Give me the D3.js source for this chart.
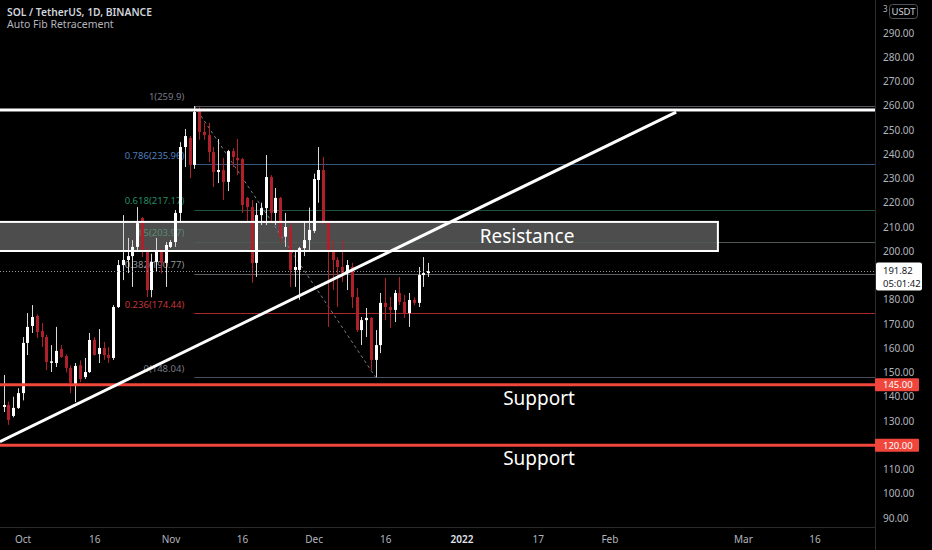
<!DOCTYPE html>
<html>
<head>
<meta charset="utf-8">
<script src="https://d3js.org/d3.v7.min.js"></script>
<style>
  html, body { margin: 0; padding: 0; background: #000; overflow: hidden; }
  svg { display: block; font-family: "Noto Sans", sans-serif; }
</style>
</head>
<body>
<svg id="chart" width="932" height="550"></svg>
<script>
// --- Daten ---
const firstDay = '2021-09-27';
const opens = [135.8, 136.6, 132.1, 135.4, 141.5, 162.2, 169.2, 173.3, 167.1, 164.6,
  154.0, 153.9, 159.7, 156.8, 151.9, 144.8, 153.0, 148.1, 150.2, 163.4,
  157.6, 160.1, 157.2, 156.0, 177.0, 194.3, 196.4, 198.0, 201.8, 213.7,
  199.7, 184.0, 195.6, 200.5, 195.2, 201.8, 203.8, 215.8, 243.0, 246.7,
  235.6, 258.2, 249.2, 247.9, 240.9, 232.7, 233.5, 228.6, 241.3, 238.5,
  238.0, 222.0, 218.2, 195.2, 214.9, 217.8, 230.6, 215.8, 222.0, 206.0,
  210.0, 192.3, 192.3, 201.3, 204.6, 208.4, 229.4, 233.5, 212.1, 199.7,
  196.4, 193.5, 191.0, 193.5, 181.1, 167.5, 171.6, 172.5, 155.2, 161.3,
  178.7, 177.0, 175.8, 182.8, 179.1, 174.5, 179.9, 178.7, 190.2, 191.0];
const highs = [149.0, 138.0, 140.0, 143.5, 164.6, 174.5, 177.8, 174.0, 170.4, 165.5,
  161.3, 168.8, 161.3, 157.5, 153.0, 153.9, 155.0, 156.0, 166.3, 164.6,
  167.9, 162.6, 160.5, 177.8, 196.4, 214.9, 205.5, 204.6, 218.2, 214.1,
  201.8, 199.0, 205.5, 201.0, 203.8, 204.6, 217.0, 245.0, 250.4, 247.5,
  259.9, 259.4, 252.9, 252.9, 243.0, 246.3, 238.5, 241.8, 242.5, 246.3,
  238.5, 222.4, 221.1, 219.9, 220.0, 239.7, 231.4, 226.1, 222.4, 215.8,
  212.0, 200.5, 201.8, 212.0, 218.0, 232.0, 243.0, 238.9, 212.5, 204.6,
  197.6, 204.6, 196.4, 195.2, 184.8, 172.9, 176.6, 172.9, 167.5, 182.8,
  189.0, 181.1, 184.0, 189.4, 182.0, 182.8, 181.0, 193.5, 197.6, 195.2];
const lows = [133.7, 128.4, 131.5, 135.0, 138.5, 157.2, 166.3, 164.2, 160.5, 151.0,
  150.2, 152.3, 156.0, 150.0, 141.5, 137.8, 146.0, 147.3, 149.8, 157.0,
  153.9, 155.2, 153.9, 155.2, 176.6, 188.1, 191.0, 185.3, 200.5, 197.6,
  181.1, 181.0, 191.4, 191.0, 185.3, 201.3, 201.8, 212.0, 234.7, 230.2,
  234.0, 246.0, 246.0, 236.8, 226.5, 228.1, 221.1, 224.8, 234.7, 231.4,
  215.8, 211.6, 187.0, 189.4, 210.8, 210.8, 211.6, 210.8, 203.4, 201.8,
  185.3, 185.3, 180.0, 198.0, 200.5, 207.5, 220.0, 211.0, 168.8, 184.0,
  177.0, 187.3, 184.0, 176.6, 166.7, 161.3, 164.6, 151.0, 148.04, 158.0,
  171.6, 168.4, 170.8, 177.8, 172.5, 168.8, 177.8, 177.0, 185.3, 189.4];
const closes = [136.6, 130.4, 135.4, 141.5, 162.2, 168.8, 172.9, 166.7, 164.6, 154.3,
  154.6, 158.9, 156.4, 151.9, 145.7, 152.7, 147.3, 150.2, 163.4, 157.2,
  160.1, 157.2, 156.0, 177.0, 194.3, 196.4, 198.0, 201.8, 211.6, 199.7,
  184.0, 195.6, 199.7, 195.2, 202.6, 203.8, 215.8, 243.0, 247.5, 235.6,
  257.4, 249.2, 247.9, 240.9, 232.7, 233.5, 228.6, 241.3, 238.9, 237.6,
  219.1, 218.2, 195.2, 214.9, 217.8, 230.6, 215.8, 222.0, 206.0, 210.0,
  192.3, 193.5, 201.3, 204.6, 208.8, 229.8, 233.5, 212.1, 200.5, 196.4,
  193.5, 191.0, 194.3, 181.1, 167.5, 171.6, 172.5, 155.2, 161.3, 178.7,
  177.0, 175.8, 182.8, 179.1, 174.5, 179.9, 178.7, 190.2, 191.0, 191.82];
const lastPrice = 191.82;
const countdown = '05:01:42';

// Auto Fib Retracement
const fibRatios = ['1', '0.786', '0.618', '0.5', '0.382', '0.236', '0'];
const fibPrices = [259.9, 235.96, 217.17, 203.97, 190.77, 174.44, 148.04];
const fibTextColors = ['#787b86', '#4f7fba', '#268a63', '#5b8a72', '#8e9496', '#c2363a', '#787b86'];
const fibLineColors = ['#55575e', '#35587c', '#1f5240', '#4d5a52', '#5a5d62', '#a8282e', '#4c4f56'];
const fibHighDay = '2021-11-06';
const fibLowDay = '2021-12-14';

// Zeichnungen
const resistanceLine = 258.2;
const resistanceZone = [200.1, 212.1];
const zoneStart = '2021-09-01';
const zoneEnd = '2022-02-23T18:00';
const supportLevels = [145, 120];
const supportLabels = ['Support', 'Support'];
const trendPoints = [['2021-09-26T06:00', 121.5], ['2022-02-15T00:00', 257.4]];

// Achsen-Beschriftungen
const priceTicks = [90, 100, 110, 120, 130, 140, 150, 160, 170, 180, 200, 210, 220, 230, 240, 250, 260, 270, 280, 290];
const timeTickDates = ['2021-10-01', '2021-10-16', '2021-11-01', '2021-11-16', '2021-12-01', '2021-12-16',
  '2022-01-01', '2022-01-17', '2022-02-01', '2022-03-01', '2022-03-16'];
const timeTickLabels = ['Oct', '16', 'Nov', '16', 'Dec', '16', '2022', '17', 'Feb', 'Mar', '16'];

// --- Layout ---
const CHART_W = 875;
const CHART_H = 527;
const UP = '#ffffff';
const DOWN = '#b0202a';
const RED_LINE = '#f0463c';

const svg = d3.select('#chart');
svg.append('rect').attr('width', 932).attr('height', 550).attr('fill', '#000');

const x = d3.scaleUtc()
  .domain([new Date('2021-10-01'), new Date('2022-03-16')])
  .range([22.6, 814.5]);
const y = d3.scaleLinear().domain([90, 290]).range([518, 33]);

svg.append('clipPath').attr('id', 'plot-clip')
  .append('rect').attr('width', CHART_W).attr('height', CHART_H);
const plot = svg.append('g').attr('clip-path', 'url(#plot-clip)');

const candles = opens.map((o, i) => ({
  date: d3.utcDay.offset(new Date(firstDay), i),
  open: o, high: highs[i], low: lows[i], close: closes[i]
}));

// Widerstandszone (Füllung unter den Kerzen)
plot.append('rect')
  .attr('x', x(new Date(zoneStart)))
  .attr('y', y(resistanceZone[1]))
  .attr('width', x(new Date(zoneEnd)) - x(new Date(zoneStart)))
  .attr('height', y(resistanceZone[0]) - y(resistanceZone[1]))
  .attr('fill', 'rgba(140,140,140,0.55)');

// Fib-Linien
const fibX0 = x(new Date(fibHighDay));
fibPrices.forEach((p, i) => {
  plot.append('line')
    .attr('x1', fibX0).attr('x2', CHART_W)
    .attr('y1', Math.round(y(p)) + 0.5).attr('y2', Math.round(y(p)) + 0.5)
    .attr('stroke', fibLineColors[i]).attr('stroke-width', 1);
  plot.append('text')
    .attr('x', fibX0 - 10).attr('y', y(p) - 5.5)
    .attr('text-anchor', 'end')
    .attr('font-size', 9.5).attr('fill', fibTextColors[i])
    .text(`${fibRatios[i]}(${p})`);
});

// gestrichelte Fib-Trendlinie
plot.append('line')
  .attr('x1', x(new Date(fibHighDay))).attr('y1', y(fibPrices[0]))
  .attr('x2', x(new Date(fibLowDay))).attr('y2', y(fibPrices[fibPrices.length - 1]))
  .attr('stroke', '#787b86').attr('stroke-width', 1).attr('stroke-dasharray', '3,3');

// Kerzen
const candleG = plot.append('g');
candleG.selectAll('line.wick')
  .data(candles).join('line')
  .attr('class', 'wick')
  .attr('x1', d => Math.round(x(d.date)) + 0.5)
  .attr('x2', d => Math.round(x(d.date)) + 0.5)
  .attr('y1', d => y(d.high)).attr('y2', d => y(d.low))
  .attr('stroke', d => d.close >= d.open ? '#d8d8d8' : DOWN)
  .attr('stroke-width', 1);
candleG.selectAll('rect.body')
  .data(candles).join('rect')
  .attr('class', 'body')
  .attr('x', d => Math.round(x(d.date)) - 1)
  .attr('width', 3)
  .attr('y', d => y(Math.max(d.open, d.close)))
  .attr('height', d => Math.max(1, Math.abs(y(d.open) - y(d.close))))
  .attr('fill', d => d.close >= d.open ? UP : DOWN);

// Linie des aktuellen Kurses
plot.append('line')
  .attr('x1', 0).attr('x2', CHART_W)
  .attr('y1', Math.round(y(lastPrice)) + 0.5).attr('y2', Math.round(y(lastPrice)) + 0.5)
  .attr('stroke', '#9598a1').attr('stroke-width', 1).attr('stroke-dasharray', '1,2');

// Widerstandszone Rahmen + Text
plot.append('rect')
  .attr('x', x(new Date(zoneStart)))
  .attr('y', y(resistanceZone[1]))
  .attr('width', x(new Date(zoneEnd)) - x(new Date(zoneStart)))
  .attr('height', y(resistanceZone[0]) - y(resistanceZone[1]))
  .attr('fill', 'none').attr('stroke', '#fff').attr('stroke-width', 2);
plot.append('text')
  .attr('x', 527).attr('y', y((resistanceZone[0] + resistanceZone[1]) / 2) + 6.5)
  .attr('text-anchor', 'middle').attr('font-size', 19).attr('fill', '#fff')
  .text('Resistance');

// obere Widerstandslinie
plot.append('line')
  .attr('x1', 0).attr('x2', CHART_W)
  .attr('y1', y(resistanceLine)).attr('y2', y(resistanceLine))
  .attr('stroke', '#fff').attr('stroke-width', 3);

// Unterstützungen
supportLevels.forEach((p, i) => {
  plot.append('line')
    .attr('x1', 0).attr('x2', CHART_W)
    .attr('y1', y(p)).attr('y2', y(p))
    .attr('stroke', RED_LINE).attr('stroke-width', 3);
  plot.append('text')
    .attr('x', 539).attr('y', y(p) + 20)
    .attr('text-anchor', 'middle').attr('font-size', 19).attr('fill', '#fff')
    .text(supportLabels[i]);
});

// steigende Trendlinie
plot.append('line')
  .attr('x1', x(new Date(trendPoints[0][0]))).attr('y1', y(trendPoints[0][1]))
  .attr('x2', x(new Date(trendPoints[1][0]))).attr('y2', y(trendPoints[1][1]))
  .attr('stroke', '#fff').attr('stroke-width', 3);

// --- Achsen ---
svg.append('line').attr('x1', CHART_W + 0.5).attr('x2', CHART_W + 0.5)
  .attr('y1', 0).attr('y2', 550).attr('stroke', '#2a2a2e');
svg.append('line').attr('x1', 0).attr('x2', CHART_W)
  .attr('y1', CHART_H + 0.5).attr('y2', CHART_H + 0.5).attr('stroke', '#2a2a2e');

const yAxis = svg.append('g')
  .attr('transform', `translate(${CHART_W},0)`)
  .call(d3.axisRight(y).tickValues(priceTicks).tickFormat(d => d.toFixed(2)).tickSize(0).tickPadding(8));
yAxis.select('.domain').remove();
yAxis.selectAll('text').attr('font-size', 10).attr('fill', '#b2b5be')
  .attr('font-family', '"Noto Sans", sans-serif');

const xAxis = svg.append('g')
  .attr('transform', `translate(0,${CHART_H})`)
  .call(d3.axisBottom(x)
    .tickValues(timeTickDates.map(d => new Date(d)))
    .tickFormat((d, i) => timeTickLabels[i])
    .tickSize(0).tickPadding(9));
xAxis.select('.domain').remove();
xAxis.selectAll('text').attr('font-size', 10).attr('fill', '#b2b5be')
  .attr('font-family', '"Noto Sans", sans-serif')
  .filter((d, i) => timeTickLabels[i] === '2022')
  .attr('fill', '#e0e3eb').attr('font-weight', 600);

// rote Preisschilder
supportLevels.forEach(p => {
  svg.append('rect')
    .attr('x', CHART_W).attr('y', y(p) - 6.5).attr('width', 44).attr('height', 13)
    .attr('rx', 1).attr('fill', RED_LINE);
  svg.append('text')
    .attr('x', CHART_W + 8).attr('y', y(p) + 3.5)
    .attr('font-size', 9.5).attr('fill', '#fff')
    .text(p.toFixed(2));
});

// Schild des aktuellen Kurses
const ly = y(lastPrice);
svg.append('rect')
  .attr('x', CHART_W + 1).attr('y', ly - 8.5).attr('width', 46).attr('height', 28)
  .attr('rx', 2).attr('fill', '#ffffff');
svg.append('text').attr('x', CHART_W + 8).attr('y', ly + 2.8)
  .attr('font-size', 9.5).attr('fill', '#131722').text(lastPrice.toFixed(2));
svg.append('text').attr('x', CHART_W + 8).attr('y', ly + 16)
  .attr('font-size', 9.5).attr('fill', '#131722').text(countdown);

// Währungsknopf oben rechts
svg.append('text').attr('x', 883).attr('y', 12).attr('font-size', 8).attr('fill', '#b2b5be').text('3');
svg.append('rect').attr('x', 889.5).attr('y', 4.5).attr('width', 28).attr('height', 14)
  .attr('rx', 3).attr('fill', 'none').attr('stroke', '#50535e');
svg.append('text').attr('x', 903.5).attr('y', 15).attr('text-anchor', 'middle')
  .attr('font-size', 9.5).attr('fill', '#d1d4dc').text('USDT');

// Titel
svg.append('text').attr('x', 7).attr('y', 15.5)
  .attr('font-size', 10.3).attr('font-weight', 600).attr('fill', '#d1d4dc')
  .text('SOL / TetherUS, 1D, BINANCE');
svg.append('text').attr('x', 7).attr('y', 28)
  .attr('font-size', 10.5).attr('fill', '#b2b5be')
  .text('Auto Fib Retracement');
</script>
</body>
</html>
